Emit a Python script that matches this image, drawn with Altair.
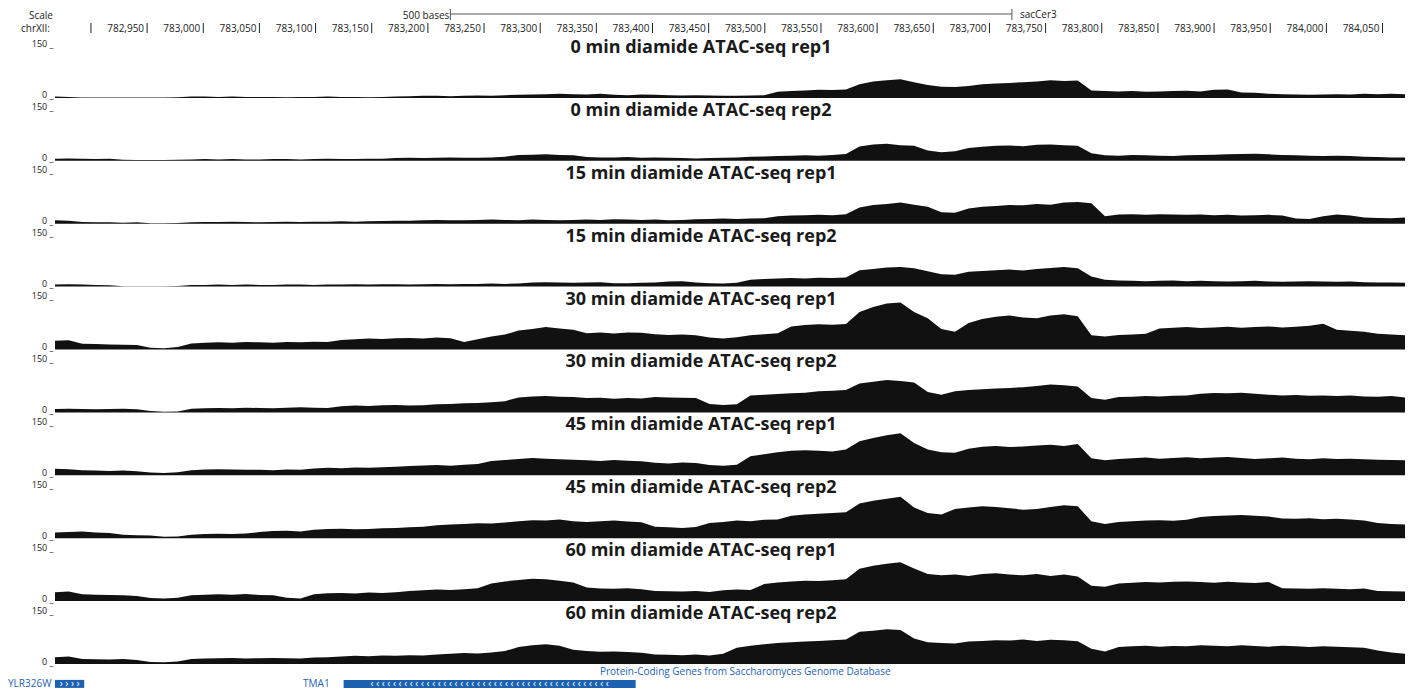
import altair as alt
import pandas as pd

# ---------------- data ----------------
WIN_START = 782868
WIN_END = 784070

track_titles = [
    "0 min diamide ATAC-seq rep1", "0 min diamide ATAC-seq rep2",
    "15 min diamide ATAC-seq rep1", "15 min diamide ATAC-seq rep2",
    "30 min diamide ATAC-seq rep1", "30 min diamide ATAC-seq rep2",
    "45 min diamide ATAC-seq rep1", "45 min diamide ATAC-seq rep2",
    "60 min diamide ATAC-seq rep1", "60 min diamide ATAC-seq rep2",
]

m0_rep1 = [4, 3, 1, 1, 1, 1, 1, 1, 1, 2, 4, 4, 3, 4, 3, 3, 3, 2, 3, 3, 4, 3, 3, 2, 3, 4,
           5, 6, 6, 5, 6, 7, 6, 8, 9, 10, 11, 12, 11, 10, 12, 9, 8, 10, 9, 8, 7, 8, 7,
           6, 6, 7, 8, 18, 20, 22, 24, 23, 25, 40, 48, 52, 55, 46, 38, 33, 32, 35,
           40, 42, 44, 46, 48, 52, 50, 51, 22, 20, 19, 20, 18, 19, 20, 21, 19, 24, 25,
           16, 15, 12, 11, 10, 9, 10, 11, 10, 12, 11, 12, 11]
m0_rep2 = [6, 7, 6, 5, 6, 3, 2, 2, 2, 3, 4, 5, 4, 5, 4, 4, 5, 5, 4, 5, 6, 5, 5, 6, 6,
           8, 9, 8, 9, 10, 9, 9, 10, 12, 17, 18, 19, 17, 16, 11, 10, 10, 11, 9, 10, 9,
           8, 7, 8, 9, 10, 12, 13, 14, 15, 16, 15, 17, 20, 42, 48, 50, 46, 44, 30, 25, 28,
           38, 41, 44, 45, 43, 47, 48, 46, 44, 22, 16, 15, 17, 16, 15, 14, 16, 17, 18, 19,
           20, 21, 19, 17, 16, 15, 14, 15, 14, 12, 11, 10, 10]
m15_rep1 = [10, 9, 5, 4, 4, 3, 4, 1, 1, 2, 4, 5, 5, 6, 5, 4, 5, 6, 5, 6, 6, 7, 6, 7, 8, 9,
            9, 10, 11, 10, 10, 11, 12, 11, 10, 12, 11, 10, 11, 12, 11, 13, 12, 11, 12, 10, 11, 13,
            14, 15, 14, 15, 16, 22, 24, 25, 26, 25, 28, 48, 55, 58, 62, 56, 50, 34, 32,
            45, 50, 52, 55, 54, 58, 56, 62, 64, 60, 22, 27, 28, 26, 28, 27, 26, 27, 25, 26, 24,
            25, 26, 24, 15, 14, 22, 27, 24, 18, 17, 16, 18]
m15_rep2 = [6, 7, 6, 5, 4, 1, 1, 1, 1, 2, 5, 5, 6, 5, 6, 5, 5, 6, 6, 5, 6, 6, 7, 6, 7, 7, 6,
            7, 8, 7, 8, 8, 9, 8, 9, 12, 13, 12, 11, 12, 13, 10, 10, 11, 12, 15, 16, 12, 10, 9, 11,
            20, 22, 24, 25, 24, 26, 25, 27, 48, 52, 56, 58, 54, 45, 36, 35,
            44, 46, 48, 50, 47, 52, 55, 58, 54, 30, 20, 18, 17, 16, 17, 18, 16, 17, 16, 15, 16,
            17, 15, 14, 15, 16, 15, 14, 15, 13, 12, 12, 11]
m30_rep1 = [26, 27, 17, 16, 15, 14, 13, 5, 4, 7, 18, 20, 21, 20, 22, 21, 20, 22, 21, 23, 22,
            28, 30, 32, 31, 33, 34, 32, 35, 33, 22, 30, 38, 44, 56, 60, 66, 62, 58,
            48, 50, 47, 50, 49, 45, 43, 44, 42, 35, 32, 36, 42, 45, 48, 68, 72, 74, 73, 75,
            110, 125, 135, 138, 110, 92, 60, 52, 78, 90, 96, 100, 94, 92, 100, 104, 98, 42, 38,
            43, 44, 46, 62, 64, 66, 63, 65, 67, 64, 66, 68, 65, 67, 70, 76, 58, 55, 52, 46, 44, 42]
m30_rep2 = [10, 11, 10, 9, 10, 11, 9, 4, 2, 3, 11, 12, 13, 12, 14, 13, 12, 14, 15, 14, 13,
            18, 20, 19, 21, 22, 20, 21, 24, 25, 27, 28, 30, 33, 44, 47, 48, 46, 45,
            42, 43, 40, 42, 41, 45, 44, 43, 42, 25, 22, 24, 50, 52, 54, 56, 58, 62, 64, 66,
            85, 90, 95, 92, 88, 60, 52, 62, 66, 68, 70, 72, 74, 78, 82, 80, 76, 42, 37,
            45, 46, 48, 47, 49, 50, 55, 57, 56, 58, 55, 52, 50, 51, 49, 50, 48, 50, 47, 46, 48, 44]
m45_rep1 = [19, 18, 15, 14, 13, 14, 12, 8, 7, 9, 15, 17, 18, 17, 16, 16, 15, 17, 16,
            20, 22, 21, 23, 22, 24, 25, 27, 29, 30, 28, 31, 33, 42, 45, 48, 51, 49, 47, 46,
            44, 42, 45, 43, 41, 37, 35, 38, 36, 30, 28, 31, 56, 62, 68, 72, 74, 72, 70, 76,
            100, 110, 118, 124, 95, 76, 68, 66, 78, 84, 86, 83, 85, 88, 90, 86, 92, 50, 44,
            48, 50, 52, 49, 51, 53, 50, 52, 54, 51, 48, 50, 52, 49, 47, 50, 48, 49, 47, 46, 45, 44]
m45_rep2 = [17, 18, 20, 17, 15, 10, 9, 8, 4, 5, 10, 12, 13, 12, 14, 18, 21, 22, 20,
            25, 27, 28, 26, 27, 29, 30, 32, 34, 38, 40, 42, 44, 43, 46, 50, 53, 52, 55, 50,
            48, 50, 52, 49, 47, 34, 32, 30, 33, 45, 48, 52, 50, 54, 55, 66, 70, 72, 74, 76,
            102, 110, 116, 122, 90, 74, 70, 86, 90, 94, 92, 88, 84, 86, 92, 97, 94, 50, 42,
            48, 50, 52, 53, 51, 54, 62, 65, 67, 68, 66, 64, 58, 57, 59, 56, 57, 55, 52, 45, 42, 40]
m60_rep1 = [26, 28, 20, 19, 18, 17, 15, 9, 8, 10, 17, 19, 20, 19, 21, 18, 17, 10, 8,
            20, 23, 24, 22, 25, 24, 26, 30, 32, 34, 33, 35, 38, 52, 58, 62, 66, 64, 60, 55,
            40, 37, 36, 38, 35, 30, 29, 28, 30, 27, 32, 34, 33, 50, 55, 58, 60, 59, 61, 64,
            95, 104, 110, 114, 96, 80, 76, 78, 74, 80, 82, 78, 76, 80, 74, 78, 72, 45, 42,
            52, 54, 56, 55, 57, 58, 56, 54, 57, 55, 53, 56, 38, 37, 36, 38, 36, 35, 37, 30, 29, 28]
m60_rep2 = [20, 22, 15, 14, 13, 15, 12, 6, 5, 7, 15, 16, 17, 18, 16, 17, 18, 17, 16, 19, 20,
            22, 24, 23, 25, 24, 26, 25, 28, 30, 32, 31, 34, 38, 50, 55, 58, 54,
            42, 38, 36, 37, 35, 33, 28, 27, 26, 28, 25, 30, 48, 54, 58, 62, 64, 66, 68, 70, 72,
            95, 98, 102, 100, 75, 64, 62, 60, 66, 68, 70, 69, 72, 68, 71, 70, 67, 45, 37,
            50, 52, 54, 51, 53, 52, 55, 54, 52, 55, 53, 51, 54, 52, 50, 52, 51, 49, 48, 40, 34, 30]

track_values = [m0_rep1, m0_rep2, m15_rep1, m15_rep2, m30_rep1,
                m30_rep2, m45_rep1, m45_rep2, m60_rep1, m60_rep2]

coord_ticks = [782900 + 50 * k for k in range(24)]
coord_labels = ["" if p == 782900 else f"{p:,}" for p in coord_ticks]

scale_bar_start = 783220
scale_bar_end = 783720

gene_names = ["YLR326W", "TMA1"]
gene_starts = [782868, 783125]
gene_ends = [782894, 783385]
gene_strand = ["+", "-"]

# ---------------- layout constants ----------------
PLOT_W = 1350
TRACK_H = 51
HEADER_H = 27
GENE_H = 14
SPACING = 11.9
FONT = "Open Sans"
XSCALE = alt.Scale(domain=[WIN_START, WIN_END], nice=False, zero=False)
PX_PER_BASE = PLOT_W / (WIN_END - WIN_START)


def track_chart(title, vals):
    n = len(vals)
    step = (WIN_END - WIN_START) / (n - 1)
    df = pd.DataFrame({
        "pos": [WIN_START + step * i for i in range(n)],
        "value": vals,
    })
    area = alt.Chart(df).mark_area(color="#111111", interpolate="linear").encode(
        x=alt.X("pos:Q", scale=XSCALE, axis=None),
        y=alt.Y("value:Q", scale=alt.Scale(domain=[0, 150], nice=False),
                axis=alt.Axis(values=[0, 150], labelExpr="datum.value + ' _'",
                              ticks=False, domain=False, grid=False,
                              labelBaseline="alphabetic", labelFontSize=9,
                              labelFont=FONT, labelColor="#222222",
                              labelPadding=2, title=None)),
    )
    ttl = alt.Chart(pd.DataFrame({"t": [title]})).mark_text(
        font=FONT, fontSize=18, fontWeight="bold", color="#1a1a1a",
        align="center", baseline="alphabetic"
    ).encode(x=alt.value(646), y=alt.value(6), text="t:N")
    return alt.layer(area, ttl).properties(width=PLOT_W, height=TRACK_H)


# header
ticks_df = pd.DataFrame({"pos": coord_ticks, "label": coord_labels})
tick_rules = alt.Chart(ticks_df).mark_rule(color="#222222", strokeWidth=1).encode(
    x=alt.X("pos:Q", scale=XSCALE, axis=None), y=alt.value(15), y2=alt.value(25))
tick_text = alt.Chart(ticks_df).mark_text(
    font=FONT, fontSize=10, color="#222222", align="right", baseline="middle", dx=-3
).encode(x=alt.X("pos:Q", scale=XSCALE, axis=None), y=alt.value(21), text="label:N")

sb_df = pd.DataFrame({"s": [scale_bar_start], "e": [scale_bar_end],
                      "lab": ["500 bases"], "asm": ["sacCer3"]})
sb_line = alt.Chart(sb_df).mark_rule(color="#555555").encode(
    x=alt.X("s:Q", scale=XSCALE, axis=None), x2="e:Q", y=alt.value(6))
sb_ends_df = pd.DataFrame({"p": [scale_bar_start, scale_bar_end]})
sb_ends = alt.Chart(sb_ends_df).mark_rule(color="#555555").encode(
    x=alt.X("p:Q", scale=XSCALE, axis=None), y=alt.value(1), y2=alt.value(12))
sb_lab = alt.Chart(sb_df).mark_text(
    font=FONT, fontSize=10, color="#222222", align="right", baseline="middle", dx=-1
).encode(x=alt.X("s:Q", scale=XSCALE, axis=None), y=alt.value(8), text="lab:N")
sb_asm = alt.Chart(sb_df).mark_text(
    font=FONT, fontSize=10, color="#222222", align="left", baseline="middle", dx=8
).encode(x=alt.X("e:Q", scale=XSCALE, axis=None), y=alt.value(7), text="asm:N")
side_scale = alt.Chart(pd.DataFrame({"t": ["Scale"]})).mark_text(
    font=FONT, fontSize=10, color="#222222", align="right", baseline="middle"
).encode(x=alt.value(-2), y=alt.value(8), text="t:N")
side_chr = alt.Chart(pd.DataFrame({"t": ["chrXII:"]})).mark_text(
    font=FONT, fontSize=10, color="#222222", align="right", baseline="middle"
).encode(x=alt.value(-5), y=alt.value(21), text="t:N")

header = alt.layer(tick_rules, tick_text, sb_line, sb_ends, sb_lab, sb_asm,
                   side_scale, side_chr).properties(width=PLOT_W, height=HEADER_H)

# gene track
BLUE = "#1c62b0"
genes_df = pd.DataFrame({"name": gene_names, "start": gene_starts,
                         "end": gene_ends, "strand": gene_strand})
genes_df["mid"] = (genes_df["start"] + genes_df["end"]) / 2
genes_df["chev"] = [
    ("\u203a " if st == "+" else "\u2039 ") * max(1, int((e - s) * PX_PER_BASE / 6.7))
    for s, e, st in zip(gene_starts, gene_ends, gene_strand)
]
gene_boxes = alt.Chart(genes_df).mark_rect(color=BLUE).encode(
    x=alt.X("start:Q", scale=XSCALE, axis=None), x2="end:Q",
    y=alt.value(4), y2=alt.value(12))
gene_chev = alt.Chart(genes_df).mark_text(
    font=FONT, fontSize=10, color="white", align="center", baseline="middle"
).encode(x=alt.X("mid:Q", scale=XSCALE, axis=None), y=alt.value(8), text="chev:N")
ylr_lab = alt.Chart(pd.DataFrame({"t": ["YLR326W"]})).mark_text(
    font=FONT, fontSize=10, color=BLUE, align="left", baseline="middle"
).encode(x=alt.value(-47), y=alt.value(8), text="t:N")
tma_lab = alt.Chart(genes_df[genes_df["name"] == "TMA1"]).mark_text(
    font=FONT, fontSize=10, color=BLUE, align="right", baseline="middle", dx=-14
).encode(x=alt.X("start:Q", scale=XSCALE, axis=None), y=alt.value(8), text="name:N")
gene_title = alt.Chart(pd.DataFrame({"t": ["Protein-Coding Genes from Saccharomyces Genome Database"]})).mark_text(
    font=FONT, fontSize=10, color=BLUE, align="left", baseline="middle"
).encode(x=alt.value(545), y=alt.value(-4), text="t:N")

gene_panel = alt.layer(gene_boxes, gene_chev, ylr_lab, tma_lab, gene_title).properties(
    width=PLOT_W, height=GENE_H)

panels = [header] + [track_chart(t, v) for t, v in zip(track_titles, track_values)] + [gene_panel]

chart = alt.vconcat(*panels, spacing=SPACING, bounds="flush").properties(
    padding=0
).configure(background="white").configure_view(strokeWidth=0, stroke="transparent")

chart.save("out.html", embed_options={"renderer": "svg", "actions": False})
